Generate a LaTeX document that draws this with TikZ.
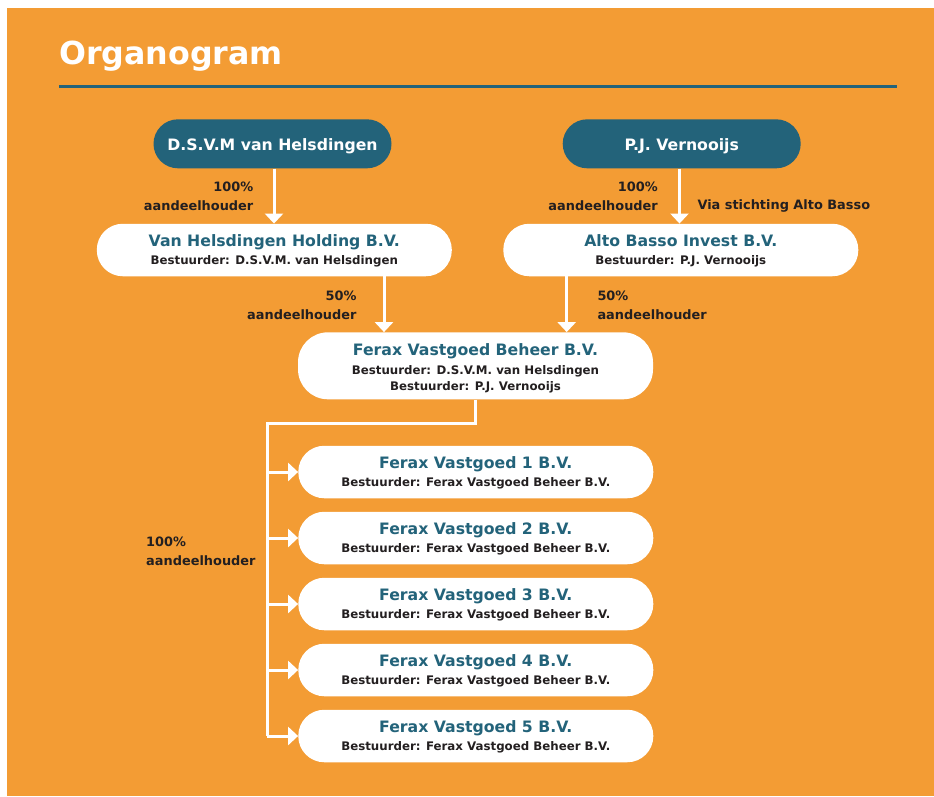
\documentclass[tikz,border=0pt]{standalone}
\usepackage{fontspec}
\setmainfont{DejaVu Sans}
\usetikzlibrary{arrows.meta,calc}
\definecolor{bgorange}{HTML}{F39C34}
\definecolor{teal}{HTML}{23637A}
\definecolor{darktxt}{HTML}{231F20}
\tikzset{
  person/.style={fill=teal, rounded corners=24.5pt, minimum width=238pt, minimum height=49pt, inner sep=0pt},
  wbox/.style={fill=white, rounded corners=26pt, minimum width=355pt, minimum height=52.5pt, inner sep=0pt},
  ptxt/.style={text=white, font=\bfseries\fontsize{15.7}{18}\selectfont, anchor=base, inner sep=0pt},
  ttl/.style={text=teal, font=\bfseries\fontsize{15.7}{18}\selectfont, anchor=base, inner sep=0pt},
  sub/.style={text=darktxt, font=\bfseries\fontsize{11.8}{14}\selectfont, anchor=base, inner sep=0pt},
  lbl/.style={text=darktxt, font=\bfseries\fontsize{12.9}{18.6}\selectfont, inner sep=0pt},
  conn/.style={draw=white, line width=3pt},
  arr/.style={conn, -{Triangle[width=18pt,length=10pt]}},
}
\begin{document}
\begin{tikzpicture}[x=1pt,y=-1pt]
\useasboundingbox (0,0) rectangle (934,796);
\fill[bgorange] (7,8) rectangle (934,796);
% title
\node[text=white, font=\bfseries\fontsize{31.7}{36}\selectfont, anchor=base west, inner sep=0pt] (title) at (59,64) {Organogram};
\draw[teal, line width=3pt] (59,86) -- (897,86);
% persons
\node[person] (dsvm) at (272.5,143.8) {};
\node[ptxt] (dsvmt) at (272.5,150.7) {D.S.V.M van Helsdingen};
\node[person] (pj) at (681.7,143.8) {};
\node[ptxt] (pjt) at (681.7,150.7) {P.J. Vernooijs};
% holdings
\node[wbox] (hold) at (274.3,250) {};
\node[ttl] (holdt) at (274.3,246.7) {Van Helsdingen Holding B.V.};
\node[sub] (holds) at (274.3,264.3) {Bestuurder: D.S.V.M. van Helsdingen};
\node[wbox] (alto) at (680.8,250) {};
\node[ttl] (altot) at (680.8,246.7) {Alto Basso Invest B.V.};
\node[sub] (altos) at (680.8,264.3) {Bestuurder: P.J. Vernooijs};
% beheer
\node[wbox, minimum height=67pt, rounded corners=30pt] (beh) at (475.5,365.8) {};
\node[ttl] (beht) at (475.5,355) {Ferax Vastgoed Beheer B.V.};
\node[sub] (behs1) at (475.5,374) {Bestuurder: D.S.V.M. van Helsdingen};
\node[sub] (behs2) at (475.5,390) {Bestuurder: P.J. Vernooijs};
% ferax subsidiaries
\foreach \i/\c in {1/472,2/538,3/604,4/670,5/736}{
  \node[wbox] (f\i) at (475.8,\c) {};
  \node[ttl] (f\i t) at (475.8,\c-3.7) {Ferax Vastgoed \i\ B.V.};
  \node[sub] (f\i s) at (475.8,\c+14.7) {Bestuurder: Ferax Vastgoed Beheer B.V.};
}
% connector helper coordinates
\coordinate (c1) at (274,0);
\coordinate (c2) at (679.5,0);
\coordinate (c3) at (384,0);
\coordinate (c4) at (566.7,0);
\coordinate (j) at (267,423.3);
\coordinate (jb) at (267,736);
% connectors
\draw[arr] (dsvm.south -| c1) -- (hold.north -| c1);
\draw[arr] (pj.south -| c2) -- (alto.north -| c2);
\draw[arr] (hold.south -| c3) -- (beh.north -| c3);
\draw[arr] (alto.south -| c4) -- (beh.north -| c4);
\draw[conn, line join=miter] (beh.south) |- (j) -- (jb);
\foreach \i in {1,...,5}{
  \draw[arr] (f\i.west -| j) -- (f\i.west);
}
% labels (base anchor = baseline of the last line)
\node[lbl, anchor=base east, align=right] (l1) at (253.5,210) {100\%\\aandeelhouder};
\node[lbl, anchor=base east, align=right] (l2) at (658,210) {100\%\\aandeelhouder};
\node[lbl, anchor=base west] (l3) at (697.3,209) {Via stichting Alto Basso};
\node[lbl, anchor=base east, align=right] (l4) at (356.7,319.3) {50\%\\aandeelhouder};
\node[lbl, anchor=base west, align=left] (l5) at (597.3,319.3) {50\%\\aandeelhouder};
\node[lbl, anchor=base west, align=left] (l6) at (146,565) {100\%\\aandeelhouder};
\end{tikzpicture}
\end{document}
